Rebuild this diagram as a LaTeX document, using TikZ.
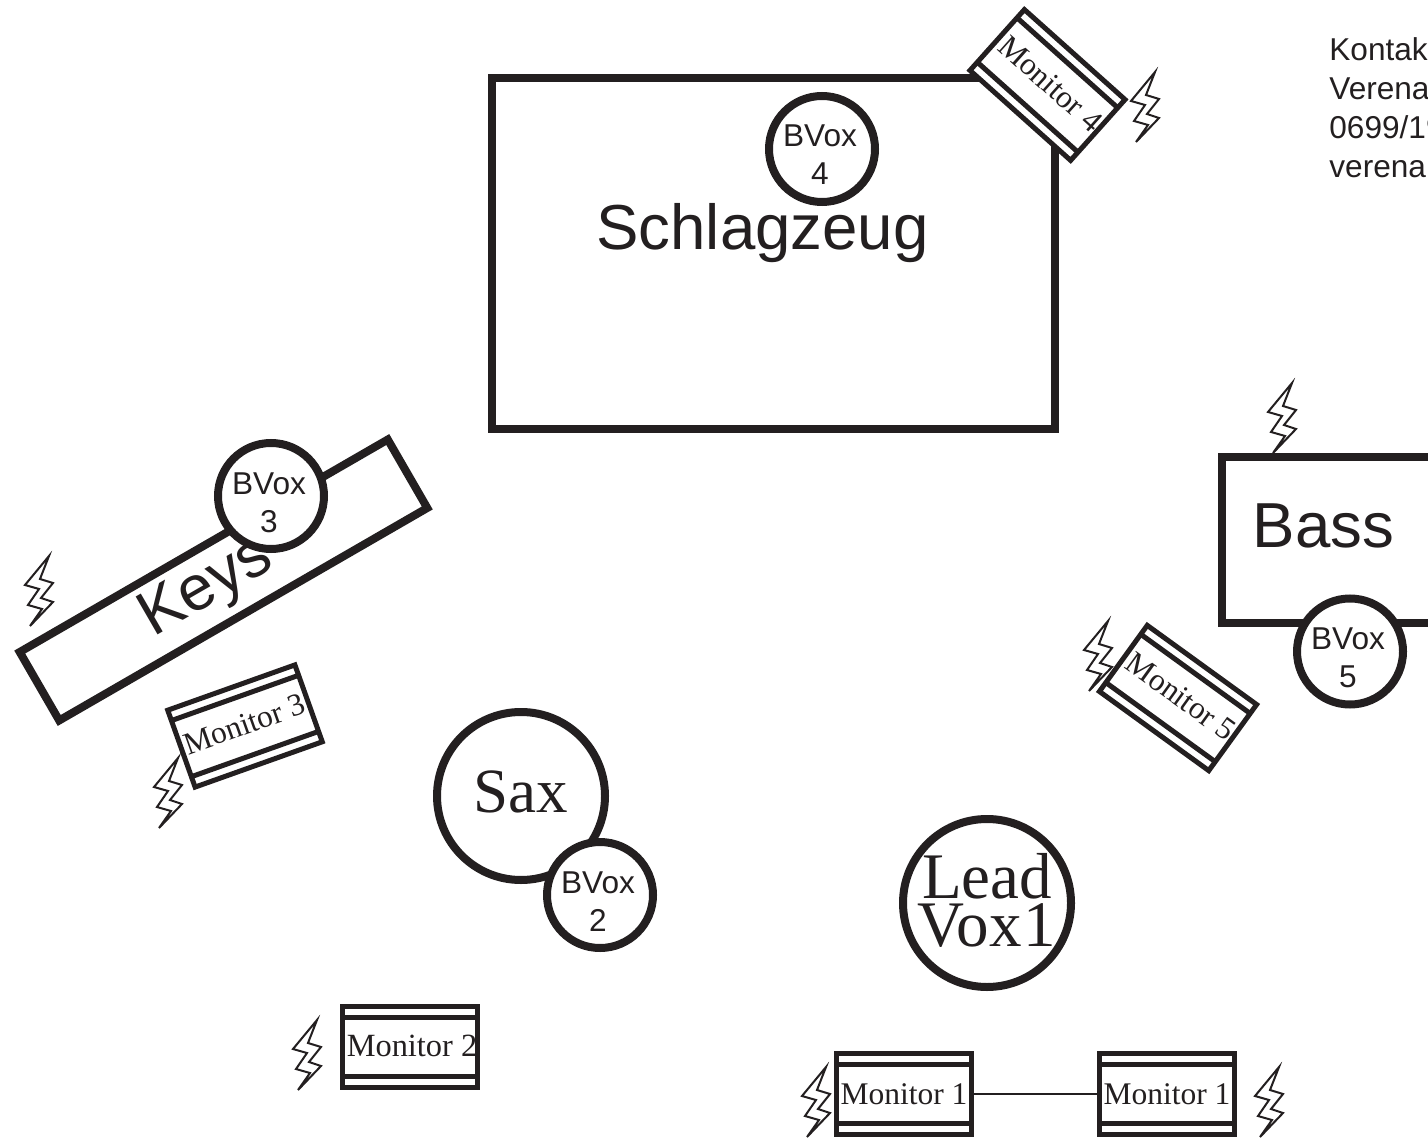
\documentclass[tikz,border=0pt]{standalone}
\usepackage{fontspec}
\setmainfont{Liberation Sans}
\newfontfamily\timesf{Liberation Serif}
\usetikzlibrary{calc}
\definecolor{ink}{HTML}{231F20}
\newcommand{\fs}[2]{\fontsize{#1}{#2}\selectfont}
\newcommand{\stackedtext}[3]{\raisebox{#3}[0pt][0pt]{\vbox{\halign{\hfil##\hfil\cr#1\cr#2\cr}}}}
\tikzset{
  heavy/.style={draw=ink,line width=4pt,fill=white,inner sep=0pt,outer sep=0pt,text=ink},
  bvcircle/.style={heavy,circle,minimum size=53pt,font=\fs{15.8pt}{19pt}},
  bigcircle/.style={heavy,circle,minimum size=84pt},
  monitorbox/.style={draw=ink,line width=2.5pt,fill=white,inner sep=0pt,outer sep=0pt,text=ink,
     minimum width=67.5pt,minimum height=40.8pt},
  bandline/.style={draw=ink,line width=2.5pt},
  boltline/.style={draw=ink,line width=1pt,fill=white,line join=miter},
  bigsans/.style={text=ink,font=\fs{31.8pt}{36pt},inner sep=0pt},
}
% name, x, y, angle, text, font size, shift along the text, shift across it
\newcommand{\monitor}[8]{%
  \node[monitorbox,rotate=#4,font=\timesf\fs{#6pt}{20pt}] (#1) at (#2,#3) {\kern#7pt\makebox[0pt]{\raisebox{#8pt}{#5}}};
  \draw[bandline] ($(#1.north west)!0.135!(#1.south west)$) -- ($(#1.north east)!0.135!(#1.south east)$);
  \draw[bandline] ($(#1.south west)!0.135!(#1.north west)$) -- ($(#1.south east)!0.135!(#1.north east)$);
}
\begin{document}
\begin{tikzpicture}[x=0.5pt,y=-0.5pt]
\useasboundingbox (0,0) rectangle (1428,1138);
\clip (0,0) rectangle (1428,1138);
% instruments
\node[heavy,minimum width=281.5pt,minimum height=175.5pt] (drums) at (773.5,253.5) {};
\node[bigsans,anchor=base] (drumslabel) at (762.5,250) {Schlagzeug};
\node[heavy,minimum width=212.5pt,minimum height=39.5pt,rotate=30] (keys) at (223.5,580) {};
\node[bigsans,rotate=30,anchor=base] (keyslabel) at (215,602) {Keys};
\node[heavy,minimum width=160pt,minimum height=83pt] (bass) at (1382,540) {};
\node[bigsans,anchor=base] (basslabel) at (1323.5,547) {Bass};
\node[bigcircle,font=\timesf\fs{31.5pt}{36pt}] (sax) at (521,796) {\raisebox{4pt}{Sax}};
\node[bigcircle,font=\timesf\fs{32.5pt}{24pt}] (lead) at (987,903) {\stackedtext{Lead}{Vox\kern1pt 1}{-21.5pt}};
% backing vocals
\node[bvcircle] (bv4) at (822,149) {\kern-2pt\stackedtext{BVox}{4}{-18pt}};
\node[bvcircle] (bv3) at (271,496) {\kern-2pt\stackedtext{BVox}{3}{-18pt}};
\node[bvcircle] (bv5) at (1350,651.5) {\kern-2pt\stackedtext{BVox}{5}{-18pt}};
\node[bvcircle] (bv2) at (600,895) {\kern-2pt\stackedtext{BVox}{2}{-18pt}};
% monitors
\monitor{m4}{1047.5}{85}{-41.8}{Monitor 4}{15.75}{1.3}{3}
\monitor{m3}{245}{726}{19.6}{Monitor 3}{15.75}{0}{2}
\monitor{m5}{1178}{698}{-35.9}{Monitor 5}{15.75}{1.7}{3}
\monitor{m2}{410}{1047}{0}{Monitor 2}{16.2}{2}{1}
\monitor{m1a}{904}{1094}{0}{Monitor 1}{15.75}{0}{0}
\monitor{m1b}{1167}{1094}{0}{Monitor 1}{15.75}{0}{0}
\draw[ink,line width=1pt] (m1a) -- (m1b);
% power bolts
\foreach \bx/\by in {1155/72,49/556,178/758,1292/383,1108/621,317/1020,826/1067,1279/1067}{
  \draw[boltline,shift={(\bx,\by)}] (0,0) -- (-24,29) -- (-10,33) -- (-21,49) -- (-7,53) -- (-19,70)
     -- (4,46) -- (-8,42) -- (4,27) -- (-9,23) -- cycle;
}
% contact
\node[anchor=base west,align=left,inner sep=0pt,text=ink,font=\fs{15.8pt}{19.5pt}] (contact) at (1329,178)
  {Kontak\\Verena\\0699/19\\verena};
\end{tikzpicture}
\end{document}
